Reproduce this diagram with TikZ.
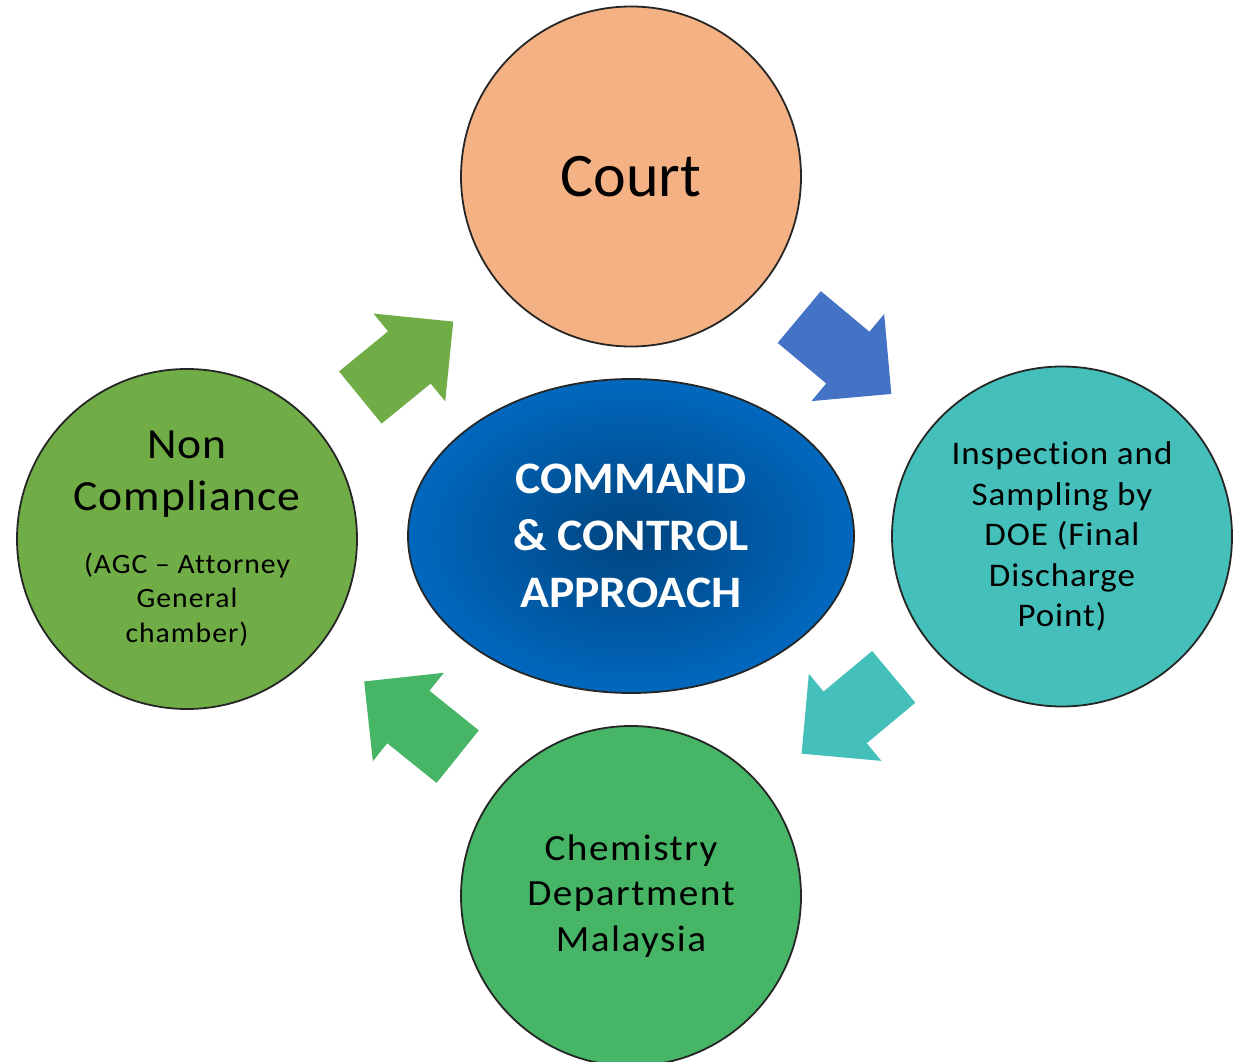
\documentclass[tikz,border=0pt]{standalone}
\usepackage{fontspec}
\setmainfont{Carlito}[Ligatures=CommonOff]
\usetikzlibrary{shapes.geometric,shapes.arrows}
\definecolor{edgegray}{HTML}{262626}
\definecolor{courtfill}{HTML}{F4B183}
\definecolor{inspfill}{HTML}{45BFBA}
\definecolor{chemfill}{HTML}{47B566}
\definecolor{ncfill}{HTML}{70AD47}
\definecolor{arrblue}{HTML}{4472C4}
\definecolor{coreinner}{HTML}{00447F}
\definecolor{coreouter}{HTML}{0068BE}
\newcommand{\agcfont}{\fontsize{28}{34.5}\selectfont\addfontfeature{FakeStretch=1.06,LetterSpace=3.6}}
\tikzset{
  stage/.style={circle,draw=edgegray,line width=1.8pt,minimum size=340pt,inner sep=0pt,align=center},
  cyclearrow/.style={single arrow,draw=none,inner sep=0pt,inner ysep=33.5pt,
    single arrow head extend=23pt,minimum height=120pt,anchor=tail,pos=.39,sloped,allow upside down}
}
\begin{document}
\begin{tikzpicture}[x=1pt,y=1pt]
		\useasboundingbox (0,0) rectangle (1238,1061);
		% the four stages
		\node[stage,fill=courtfill,font=\fontsize{62}{74}\selectfont] (court) at (631,884.5) {Court};
		\node[stage,fill=inspfill,font=\fontsize{33}{40.5}\selectfont\addfontfeature{FakeStretch=1.06,LetterSpace=2.9}] (insp) at (1062,524.5)
			{Inspection and\\Sampling by\\DOE (Final\\Discharge\\Point)};
		\node[stage,fill=chemfill,font=\fontsize{37}{45.5}\selectfont\addfontfeature{FakeStretch=1.06,LetterSpace=4}] (chem) at (631,165)
			{Chemistry\\Department\\Malaysia};
		\node[stage,fill=ncfill,font=\fontsize{43}{52}\selectfont\addfontfeature{FakeStretch=1.06,LetterSpace=2.5}] (noncomp) at (187,522)
			{Non\\Compliance\\[11pt]\agcfont (AGC -- Attorney\\[-18pt]\agcfont General\\[-17pt]\agcfont chamber)};
		% centre
		\node[ellipse,draw=edgegray,line width=1.8pt,minimum width=446pt,minimum height=314pt,
			inner color=coreinner,outer color=coreouter,text=white,align=center,
			font=\bfseries\fontsize{45}{57}\selectfont\addfontfeature{FakeStretch=1.06}] (core) at (631,525)
			{COMMAND\\\& CONTROL\\APPROACH};
		% cycle arrows
		\path (court.center) -- (insp.center) node[cyclearrow,fill=arrblue] (a1) {};
		\path (insp.center) -- (chem.center) node[cyclearrow,fill=inspfill] (a2) {};
		\path (chem.center) -- (noncomp.center) node[cyclearrow,fill=chemfill] (a3) {};
		\path (noncomp.center) -- (court.center) node[cyclearrow,fill=ncfill] (a4) {};
\end{tikzpicture}
\end{document}
